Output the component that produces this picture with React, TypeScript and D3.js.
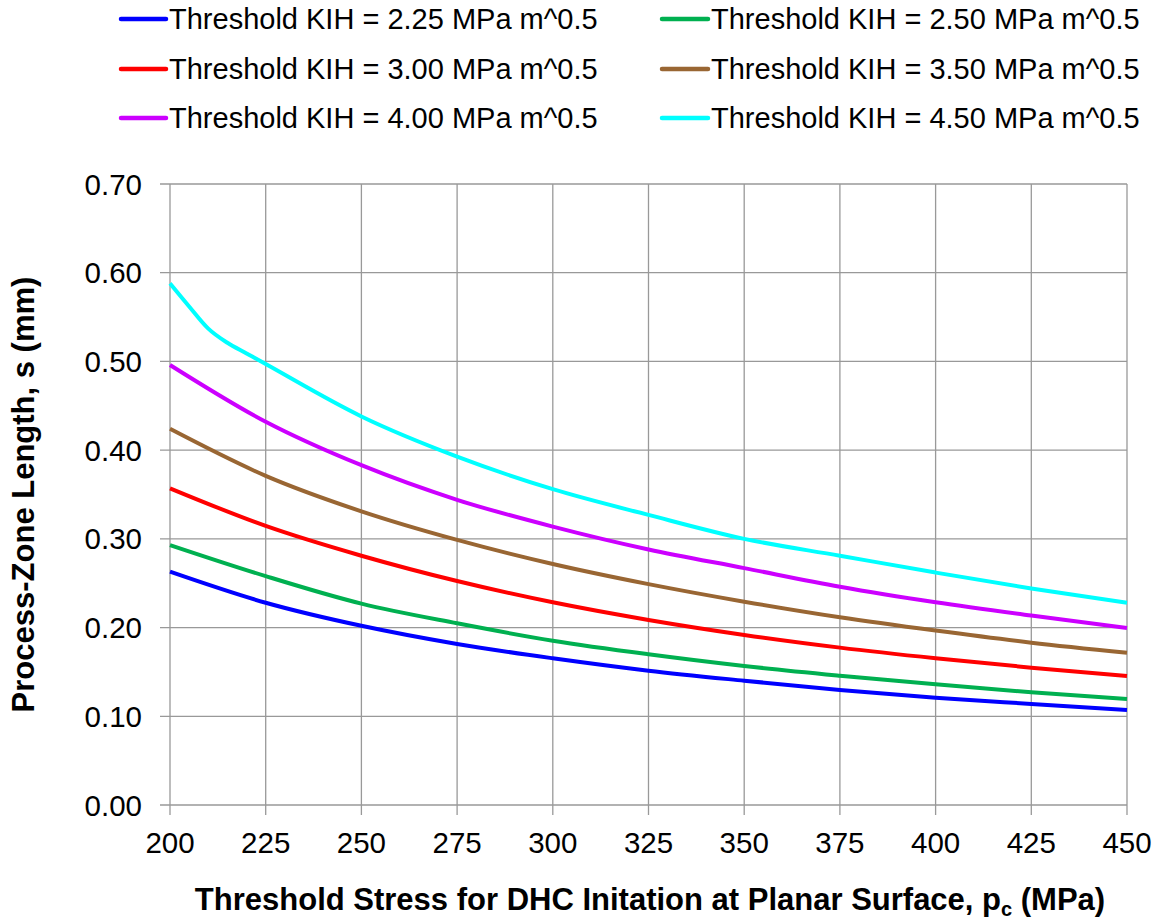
import React from "react";
import * as d3 from "d3";

const xTicks = [200, 225, 250, 275, 300, 325, 350, 375, 400, 425, 450];
const yTicks = [0, 0.1, 0.2, 0.3, 0.4, 0.5, 0.6, 0.7];

const stressX = [200, 225, 250, 275, 300, 325, 350, 375, 400, 425, 450];
const kih225 = [0.263, 0.228, 0.202, 0.1815, 0.1654, 0.1514, 0.1401, 0.1297, 0.121, 0.1139, 0.107];
const kih250 = [0.293, 0.258, 0.227, 0.2048, 0.1852, 0.1699, 0.1567, 0.1458, 0.136, 0.127, 0.1195];
const kih300 = [0.357, 0.3146, 0.281, 0.2525, 0.2285, 0.2086, 0.1917, 0.1774, 0.1654, 0.1548, 0.1454];
const kih350 = [0.424, 0.371, 0.331, 0.2988, 0.2717, 0.249, 0.2292, 0.2116, 0.1966, 0.183, 0.1717];
const kih400 = [0.496, 0.432, 0.383, 0.344, 0.3138, 0.288, 0.267, 0.246, 0.2285, 0.2135, 0.1996];
const stressX450 = [200, 205, 210, 215, 220, 225, 250, 275, 300, 325, 350, 375, 400, 425, 450];
const kih450 = [0.588, 0.562, 0.537, 0.521, 0.509, 0.497, 0.438, 0.3927, 0.356, 0.327, 0.3, 0.281, 0.262, 0.244, 0.228];

const seriesLabels = [
  "Threshold KIH = 2.25 MPa m^0.5",
  "Threshold KIH = 2.50 MPa m^0.5",
  "Threshold KIH = 3.00 MPa m^0.5",
  "Threshold KIH = 3.50 MPa m^0.5",
  "Threshold KIH = 4.00 MPa m^0.5",
  "Threshold KIH = 4.50 MPa m^0.5",
];
const seriesColors = ["#0000FF", "#00B050", "#FF0000", "#996633", "#CC00FF", "#00FFFF"];

const W = 1158;
const H = 923;
const FONT = "'Liberation Sans', Arial, sans-serif";

export default function App() {
  const x = d3.scaleLinear().domain([200, 450]).range([170, 1127]);
  const y = d3.scaleLinear().domain([0, 0.7]).range([805, 184]);

  const series = [
    { xs: stressX, ys: kih225 },
    { xs: stressX, ys: kih250 },
    { xs: stressX, ys: kih300 },
    { xs: stressX, ys: kih350 },
    { xs: stressX, ys: kih400 },
    { xs: stressX450, ys: kih450 },
  ];

  const line = d3
    .line<[number, number]>()
    .x((d) => x(d[0]))
    .y((d) => y(d[1]))
    .curve(d3.curveMonotoneX);

  const gridColor = "#999999";
  const legendRows = [19, 69, 118];
  const legendCols = [
    { lx1: 121, lx2: 166, tx: 169 },
    { lx1: 662, lx2: 708, tx: 711 },
  ];

  return (
    <svg
      width={W}
      height={H}
      style={{ position: "absolute", left: 0, top: 0, background: "#fff" }}
      fontFamily={FONT}
    >
      <rect x={0} y={0} width={W} height={H} fill="#fff" />
      {yTicks.map((t) => (
        <line key={"gy" + t} x1={160} x2={x(450)} y1={y(t)} y2={y(t)} stroke={gridColor} strokeWidth={1.3} />
      ))}
      {xTicks.map((t) => (
        <line key={"gx" + t} x1={x(t)} x2={x(t)} y1={y(0.7)} y2={815} stroke={gridColor} strokeWidth={1.3} />
      ))}
      {yTicks.map((t) => (
        <text key={"ty" + t} x={142} y={y(t) + 10.5} textAnchor="end" fontSize={29.5} fill="#000">
          {d3.format(".2f")(t)}
        </text>
      ))}
      {xTicks.map((t) => (
        <text key={"tx" + t} x={x(t)} y={853} textAnchor="middle" fontSize={29.5} fill="#000">
          {t}
        </text>
      ))}
      {series.map((s, i) => (
        <path
          key={"s" + i}
          d={line(s.xs.map((v, j) => [v, s.ys[j]] as [number, number])) || ""}
          fill="none"
          stroke={seriesColors[i]}
          strokeWidth={4}
          strokeLinejoin="round"
        />
      ))}
      {seriesLabels.map((lab, i) => {
        const col = legendCols[i % 2];
        const ry = legendRows[Math.floor(i / 2)];
        return (
          <g key={"lg" + i}>
            <line x1={col.lx1} x2={col.lx2} y1={ry} y2={ry} stroke={seriesColors[i]} strokeWidth={4.5} strokeLinecap="round" />
            <text x={col.tx} y={ry + 10} fontSize={29} fill="#000">
              {lab}
            </text>
          </g>
        );
      })}
      <text x={650} y={910} textAnchor="middle" fontSize={31} fontWeight="bold" fill="#000">
        Threshold Stress for DHC Initation at Planar Surface, p
        <tspan fontSize={20} dy={6}>c</tspan>
        <tspan dy={-6}> (MPa)</tspan>
      </text>
      <text
        transform={`translate(34, ${(y(0) + y(0.7)) / 2}) rotate(-90)`}
        textAnchor="middle"
        fontSize={31}
        fontWeight="bold"
        fill="#000"
      >
        Process-Zone Length, s (mm)
      </text>
    </svg>
  );
}
